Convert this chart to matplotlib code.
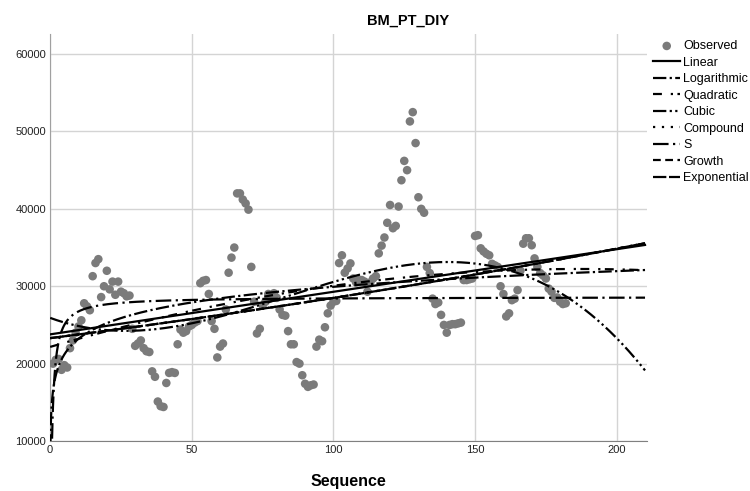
import numpy as np
import matplotlib.pyplot as plt

plt.rcParams['font.family'] = ['Liberation Sans', 'DejaVu Sans']

# observed values, sequence 1..182
observed = [
    20000, 20500, 20600, 19200, 19800, 19500, 22000, 23000, 24000, 24800,
    25600, 27800, 27400, 26900, 31300, 33000, 33500, 28600, 30000, 32000,
    29600, 30600, 28900, 30600, 29300, 29100, 28700, 28800, 24500, 22300,
    22600, 23000, 22000, 21600, 21500, 19000, 18300, 15100, 14500, 14400,
    17500, 18800, 18900, 18800, 22500, 24400, 24000, 24200, 24800, 25000,
    25300, 25500, 30400, 30700, 30800, 29000, 25500, 24500, 20800, 22200,
    22600, 27000, 31750, 33700, 35000, 42000, 42000, 41200, 40700, 39900,
    32500, 28000, 23900, 24500, 27500, 28000, 29000, 28800, 29100, 28500,
    27000, 26300, 26200, 24200, 22500, 22500, 20200, 20000, 18500, 17400,
    17000, 17200, 17300, 22200, 23100, 22900, 24700, 26500, 27500, 28000,
    28100, 33000, 34000, 31750, 32300, 32950, 31000, 30500, 30800, 30800,
    30600, 29300, 30500, 31000, 31300, 34250, 35250, 36300, 38200, 40500,
    37500, 37800, 40300, 43700, 46200, 45000, 51300, 52500, 48500, 41500,
    40000, 39500, 32500, 31700, 28400, 27700, 27900, 26300, 25000, 24000,
    25000, 25100, 25100, 25200, 25300, 30800, 30800, 30900, 31000, 36500,
    36600, 34900, 34500, 34200, 34000, 32900, 32700, 32500, 30000, 29000,
    26100, 26500, 28200, 28400, 29500, 32000, 35500, 36200, 36200, 35300,
    33600, 32500, 31700, 31400, 31000, 29700, 29300, 28500, 28550, 28000,
    27700, 27800,
]
seq = np.arange(1, len(observed) + 1)
y = np.array(observed, dtype=float)

models = ['Linear', 'Logarithmic', 'Quadratic', 'Cubic', 'Compound', 'S', 'Growth', 'Exponential']
styles = {
    'Linear': '-',
    'Logarithmic': (0, (6, 1.5, 1, 1.5)),
    'Quadratic': (0, (4, 4, 1, 2)),
    'Cubic': (0, (6, 1.5, 1, 1.5, 1, 1.5)),
    'Compound': (0, (1, 3)),
    'S': (0, (7, 2, 1, 2)),
    'Growth': (0, (3.5, 2)),
    'Exponential': (0, (6, 1.2)),
}

# curve fits (as SPSS curve estimation)
t = np.concatenate([np.geomspace(1e-5, 1, 300), np.linspace(1, 210, 1500)[1:]])
t_lin = np.linspace(0, 210, 1500)
fits = {}
b = np.polyfit(seq, y, 1)
fits['Linear'] = (t_lin, np.polyval(b, t_lin))
b = np.polyfit(np.log(seq), y, 1)
fits['Logarithmic'] = (t, np.polyval(b, np.log(t)))
b = np.polyfit(seq, y, 2)
fits['Quadratic'] = (t_lin, np.polyval(b, t_lin))
b = np.polyfit(seq, y, 3)
fits['Cubic'] = (t_lin, np.polyval(b, t_lin))
b = np.polyfit(seq, np.log(y), 1)
expo = np.exp(np.polyval(b, t_lin))
fits['Compound'] = (t_lin, expo)
fits['Growth'] = (t_lin, expo)
fits['Exponential'] = (t_lin, expo)
b = np.polyfit(1.0 / seq, np.log(y), 1)
fits['S'] = (t, np.exp(np.polyval(b, 1.0 / t)))

fig = plt.figure(figsize=(7.5, 4.91), dpi=100)
ax = fig.add_axes([0.0669, 0.1018, 0.7954, 0.829])

ax.scatter(seq, y, s=38, color='#7b7b7b', edgecolors='none', zorder=3, label='Observed')
for m in models:
    xx, yy = fits[m]
    ax.plot(xx, yy, color='black', lw=1.6, ls=styles[m], zorder=4, label=m)

ax.set_xlim(0, 210.6)
ax.set_ylim(10000, 62600)
ax.set_xticks([0, 50, 100, 150, 200])
ax.set_yticks([10000, 20000, 30000, 40000, 50000, 60000])
ax.grid(True, color='#d4d4d4', lw=1)
ax.set_axisbelow(True)
ax.tick_params(length=0, labelsize=8, colors='#222222', pad=3)
for s in ['top', 'right']:
    ax.spines[s].set_visible(False)
ax.spines['left'].set_color('#a0a0a0')
ax.spines['bottom'].set_color('#808080')

fig.text(0.465, 0.019, 'Sequence', ha='center', va='center', fontsize=11.5, fontweight='bold')
fig.text(0.544, 0.958, 'BM_PT_DIY', ha='center', va='center', fontsize=10.5, fontweight='bold')

leg = ax.legend(loc='upper left', bbox_to_anchor=(1.0, 1.0), frameon=False, fontsize=9,
                handlelength=2.2, handletextpad=0.2, labelspacing=0.36, borderaxespad=0.1)

plt.savefig('out.png', dpi=100)
